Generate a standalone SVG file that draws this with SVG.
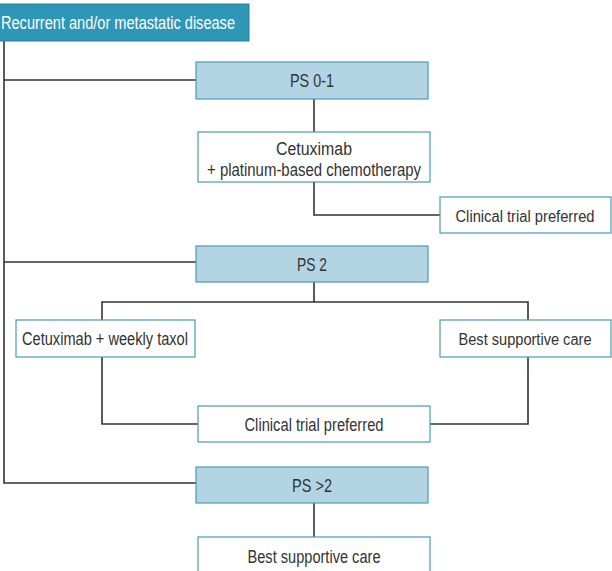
<svg xmlns="http://www.w3.org/2000/svg" width="612" height="571" viewBox="0 0 612 571">
<style>
.t{font-family:"Liberation Sans Narrow","Liberation Sans",Arial,sans-serif;font-size:17.5px;fill:#333;text-anchor:middle}
.s{font-size:16px}
.w{fill:#fff;stroke:#4a9ab8;stroke-width:1.2}
.ps{fill:#b3d4e3;stroke:#4a9ab8;stroke-width:1.2}
.c{fill:none;stroke:#333;stroke-width:1.6}
</style>
<rect width="612" height="571" fill="#fff"/>
<g id="connectors">
<polyline class="c" points="4,40 4,483 196,483"/>
<polyline class="c" points="4,80 196,80"/>
<polyline class="c" points="4,262 196,262"/>
<polyline class="c" points="314,99 314,132"/>
<polyline class="c" points="314,182 314,215 440,215"/>
<polyline class="c" points="314,282 314,302"/>
<polyline class="c" points="102,320 102,302 528,302 528,320"/>
<polyline class="c" points="102,357 102,424 198,424"/>
<polyline class="c" points="528,357 528,424 430,424"/>
<polyline class="c" points="314,503 314,537"/>
</g>
<g id="root">
<rect x="-2" y="4" width="251" height="37" fill="#2e96b7" stroke="#2a7f9c" stroke-width="1"/>
<text class="t" x="1" y="29" style="fill:#fff;text-anchor:start" textLength="234" lengthAdjust="spacingAndGlyphs">Recurrent and/or metastatic disease</text>
</g>
<g id="ps01">
<rect class="ps" x="196" y="62" width="232" height="37"/>
<text class="t" x="312" y="87" textLength="44" lengthAdjust="spacingAndGlyphs">PS 0-1</text>
</g>
<g id="cetux-plat">
<rect class="w" x="198" y="132" width="232" height="50"/>
<text class="t" x="314" y="155" textLength="76" lengthAdjust="spacingAndGlyphs">Cetuximab</text>
<text class="t" x="314" y="176" textLength="214" lengthAdjust="spacingAndGlyphs">+ platinum-based chemotherapy</text>
</g>
<g id="trial1">
<rect class="w" x="440" y="197" width="171" height="36"/>
<text class="t s" x="525" y="222" textLength="139" lengthAdjust="spacingAndGlyphs">Clinical trial preferred</text>
</g>
<g id="ps2">
<rect class="ps" x="196" y="246" width="232" height="36"/>
<text class="t" x="312" y="271" textLength="30" lengthAdjust="spacingAndGlyphs">PS 2</text>
</g>
<g id="cetux-taxol">
<rect class="w" x="16" y="320" width="179" height="37"/>
<text class="t" x="105" y="345" textLength="166" lengthAdjust="spacingAndGlyphs">Cetuximab + weekly taxol</text>
</g>
<g id="bsc2">
<rect class="w" x="440" y="320" width="171" height="37"/>
<text class="t s" x="525" y="345" textLength="133" lengthAdjust="spacingAndGlyphs">Best supportive care</text>
</g>
<g id="trial2">
<rect class="w" x="198" y="406" width="232" height="36"/>
<text class="t" x="314" y="431" textLength="139" lengthAdjust="spacingAndGlyphs">Clinical trial preferred</text>
</g>
<g id="ps3">
<rect class="ps" x="196" y="467" width="232" height="36"/>
<text class="t" x="312" y="492" textLength="40" lengthAdjust="spacingAndGlyphs">PS &gt;2</text>
</g>
<g id="bsc3">
<rect class="w" x="198" y="537" width="232" height="40"/>
<text class="t" x="314" y="563" textLength="133" lengthAdjust="spacingAndGlyphs">Best supportive care</text>
</g>
</svg>
